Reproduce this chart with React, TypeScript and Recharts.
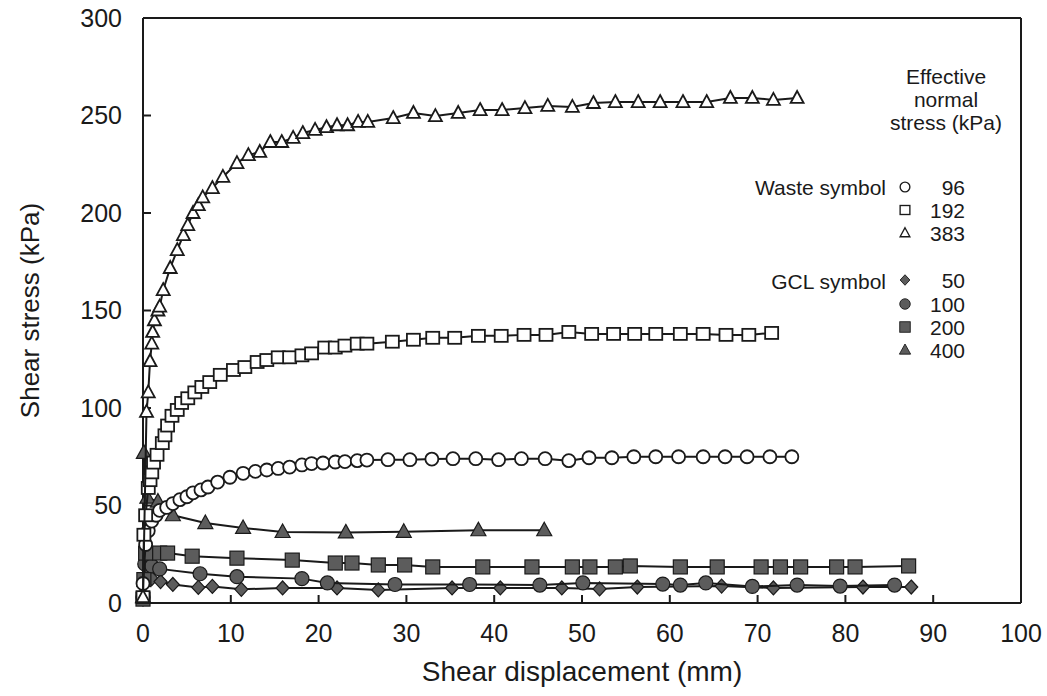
import { ComposedChart, Scatter, XAxis, YAxis } from 'recharts'

// ─── Layout / style ──────────────────────────────────────────────────────────

const W = 1047
const H = 696
const FONT = '"Liberation Sans", Arial, Helvetica, sans-serif'
const INK = '#1a1a1a'
const FILL = '#5c5c5c'

// ─── Data ────────────────────────────────────────────────────────────────────

const X_TICKS = [0, 10, 20, 30, 40, 50, 60, 70, 80, 90, 100]
const Y_TICKS = [0, 50, 100, 150, 200, 250, 300]

// Waste, effective normal stress 96 kPa (open circles)
const WASTE_96_X = [0, 0.3, 0.6, 1.0, 1.5, 1.9, 2.7, 3.4, 4.2, 5.0, 5.7, 6.6, 7.4, 8.5, 9.9, 11.4, 12.8, 14.1, 15.4, 16.7, 18.1, 19.2, 20.5, 21.9, 23.0, 24.4, 25.5, 27.9, 30.4, 32.9, 35.3, 37.9, 40.5, 43.1, 45.8, 48.5, 50.8, 53.4, 55.9, 58.4, 61.0, 63.8, 66.3, 68.8, 71.4, 73.9]
const WASTE_96_Y = [10, 30, 37, 42, 45, 47.5, 49, 51, 53, 54.5, 56.5, 58, 59.5, 62, 64.5, 66.5, 67.5, 68.2, 69, 69.7, 70.8, 71.5, 71.8, 72.3, 72.5, 73, 73.3, 73.5, 73.5, 73.8, 74, 74, 73.5, 74, 74, 73, 74.5, 74.5, 75, 75, 75, 75, 75, 75, 75, 75]

// Waste, 192 kPa (open squares)
const WASTE_192_X = [0, 0.1, 0.3, 0.6, 0.8, 1.0, 1.2, 1.6, 2.2, 2.5, 2.8, 3.3, 3.9, 4.4, 5.1, 5.9, 6.7, 7.6, 8.8, 10.3, 11.6, 13.0, 14.1, 15.4, 16.7, 18.1, 19.2, 20.7, 21.9, 23.0, 24.4, 25.5, 28.4, 30.8, 33.0, 35.5, 38.2, 40.8, 43.4, 45.9, 48.5, 51.1, 53.6, 56.0, 58.4, 61.2, 63.8, 66.4, 69.0, 71.6]
const WASTE_192_Y = [3, 35, 45, 59, 63, 67, 72, 76, 82, 86, 91, 96, 99, 102.6, 105, 108, 110.8, 113.3, 117, 119.5, 121, 123.6, 124.6, 126, 126, 127, 128, 131, 131, 132, 133, 133, 134, 135, 136, 136, 137, 137, 137.5, 137.5, 139, 138, 138, 138, 138, 138, 138, 137.5, 137.5, 138.5]

// Waste, 383 kPa (open triangles)
const WASTE_383_X = [0, 0.4, 0.6, 0.8, 1.0, 1.1, 1.3, 1.7, 1.9, 2.3, 3.1, 3.9, 4.6, 5.1, 5.7, 6.3, 6.8, 7.9, 9.1, 10.7, 12.0, 13.3, 14.5, 15.8, 17.1, 18.2, 19.6, 20.9, 22.1, 23.3, 24.5, 25.6, 28.5, 30.8, 33.3, 35.9, 38.4, 40.9, 43.5, 46.1, 48.9, 51.3, 53.8, 56.4, 58.9, 61.5, 64.2, 66.9, 69.4, 71.8, 74.5]
const WASTE_383_Y = [3, 98, 108, 124, 133, 139, 145, 150, 152, 160.5, 171.8, 181, 188.7, 193.8, 200, 204, 208, 212.8, 218.5, 225.6, 229.7, 231.3, 236.4, 236.4, 238.5, 241, 242.6, 244, 245, 245, 246.7, 246.7, 248.7, 251.3, 249.7, 251.3, 252.8, 252.8, 253.8, 254.9, 254.4, 256.4, 256.9, 256.9, 256.9, 256.9, 256.9, 259, 259, 258, 259]

// GCL, 50 kPa (filled diamonds)
const GCL_50_X = [0, 0.3, 1.0, 2.0, 3.4, 6.3, 7.9, 11.2, 15.9, 22.1, 26.8, 35.2, 40.7, 47.7, 52.0, 56.3, 65.9, 71.8, 82.0, 87.5]
const GCL_50_Y = [2, 14, 12.5, 11, 9.5, 8, 8.5, 7, 7.7, 7.7, 6.7, 7.7, 7.7, 7.7, 7.2, 8.2, 8.7, 7.7, 8.2, 8.2]

// GCL, 100 kPa (filled circles)
const GCL_100_X = [0, 0.2, 1.0, 1.9, 6.5, 10.7, 18.1, 21.0, 28.7, 37.2, 45.2, 50.1, 59.2, 61.2, 64.1, 69.4, 74.5, 79.4, 85.6]
const GCL_100_Y = [3, 20, 19, 17.5, 15, 13.5, 12.5, 10.3, 9.5, 9.5, 9.2, 10.3, 9.7, 9.2, 10.3, 8.5, 9.2, 8.7, 9.2]

// GCL, 200 kPa (filled squares)
const GCL_200_X = [0, 0.1, 0.3, 1.9, 2.8, 5.6, 10.7, 17.0, 21.9, 23.8, 26.8, 29.8, 33.0, 38.7, 44.3, 48.9, 50.9, 53.8, 55.5, 61.2, 65.4, 70.4, 72.6, 74.9, 79.0, 81.1, 87.2]
const GCL_200_Y = [2, 12, 25.6, 25.6, 25.6, 24, 23, 22, 20.5, 20.5, 19.5, 19.5, 18.5, 18.5, 18.5, 18.5, 18.5, 18.5, 19, 18.5, 18.5, 18.5, 18.5, 18.5, 18.5, 18.5, 19]

// GCL, 400 kPa (filled triangles)
const GCL_400_X = [0, 0.1, 0.5, 1.7, 3.4, 7.1, 11.4, 15.9, 23.1, 29.7, 38.2, 45.7]
const GCL_400_Y = [3, 77, 54, 52, 45, 41, 38.5, 36.4, 36.2, 36.5, 37.3, 37.3]

const zip = (xs: number[], ys: number[]) => xs.map((x, i) => ({ x, y: ys[i] }))

// ─── Marker shapes ───────────────────────────────────────────────────────────

interface ShapeProps {
  cx?: number
  cy?: number
}

function OpenCircle({ cx = 0, cy = 0 }: ShapeProps) {
  return <circle cx={cx} cy={cy} r={6.5} fill="#fff" stroke={INK} strokeWidth={1.8} />
}

function OpenSquare({ cx = 0, cy = 0 }: ShapeProps) {
  return <rect x={cx - 6.5} y={cy - 6} width={13} height={12} fill="#fff" stroke={INK} strokeWidth={1.8} />
}

function OpenTriangle({ cx = 0, cy = 0 }: ShapeProps) {
  return (
    <path
      d={`M${cx},${cy - 7} L${cx + 6.5},${cy + 5} L${cx - 6.5},${cy + 5} Z`}
      fill="#fff"
      stroke={INK}
      strokeWidth={1.8}
    />
  )
}

function FilledDiamond({ cx = 0, cy = 0 }: ShapeProps) {
  return (
    <path
      d={`M${cx},${cy - 7} L${cx + 6.5},${cy} L${cx},${cy + 7} L${cx - 6.5},${cy} Z`}
      fill={FILL}
      stroke={INK}
      strokeWidth={1.2}
    />
  )
}

function FilledCircle({ cx = 0, cy = 0 }: ShapeProps) {
  return <circle cx={cx} cy={cy} r={7} fill={FILL} stroke={INK} strokeWidth={1.2} />
}

function FilledSquare({ cx = 0, cy = 0 }: ShapeProps) {
  return <rect x={cx - 7} y={cy - 7} width={14} height={14} fill={FILL} stroke={INK} strokeWidth={1.2} />
}

function FilledTriangle({ cx = 0, cy = 0 }: ShapeProps) {
  return (
    <path
      d={`M${cx},${cy - 8} L${cx + 7.5},${cy + 5.5} L${cx - 7.5},${cy + 5.5} Z`}
      fill={FILL}
      stroke={INK}
      strokeWidth={1.2}
    />
  )
}

const SERIES = [
  { key: 'gcl50', data: zip(GCL_50_X, GCL_50_Y), shape: FilledDiamond },
  { key: 'gcl100', data: zip(GCL_100_X, GCL_100_Y), shape: FilledCircle },
  { key: 'gcl200', data: zip(GCL_200_X, GCL_200_Y), shape: FilledSquare },
  { key: 'gcl400', data: zip(GCL_400_X, GCL_400_Y), shape: FilledTriangle },
  { key: 'w96', data: zip(WASTE_96_X, WASTE_96_Y), shape: OpenCircle },
  { key: 'w192', data: zip(WASTE_192_X, WASTE_192_Y), shape: OpenSquare },
  { key: 'w383', data: zip(WASTE_383_X, WASTE_383_Y), shape: OpenTriangle },
]

// ─── Legend (upper right, inside the frame) ─────────────────────────────────

const LEGEND_WASTE = [
  { value: '96', y: 187, shape: OpenCircle },
  { value: '192', y: 210, shape: OpenSquare },
  { value: '383', y: 233, shape: OpenTriangle },
]
const LEGEND_GCL = [
  { value: '50', y: 280, shape: FilledDiamond },
  { value: '100', y: 304, shape: FilledCircle },
  { value: '200', y: 327, shape: FilledSquare },
  { value: '400', y: 350, shape: FilledTriangle },
]

function LegendOverlay() {
  const text = { fontFamily: FONT, fontSize: 21, fill: INK }
  const symX = 905
  const numX = 965
  return (
    <svg width={W} height={H} style={{ position: 'absolute', left: 0, top: 0, pointerEvents: 'none' }}>
      <text x={946} y={76} textAnchor="middle" dominantBaseline="central" {...text}>Effective</text>
      <text x={946} y={99} textAnchor="middle" dominantBaseline="central" {...text}>normal</text>
      <text x={946} y={122} textAnchor="middle" dominantBaseline="central" {...text}>stress (kPa)</text>
      <text x={886} y={187} textAnchor="end" dominantBaseline="central" {...text}>Waste symbol</text>
      <text x={886} y={281} textAnchor="end" dominantBaseline="central" {...text}>GCL symbol</text>
      {[...LEGEND_WASTE, ...LEGEND_GCL].map(item => {
        const Shape = item.shape
        return (
          <g key={item.value}>
            <g transform={`translate(${symX},${item.y}) scale(0.75) translate(${-symX},${-item.y})`}>
              <Shape cx={symX} cy={item.y} />
            </g>
            <text x={numX} y={item.y} textAnchor="end" dominantBaseline="central" {...text}>{item.value}</text>
          </g>
        )
      })}
    </svg>
  )
}

// ─── Chart ───────────────────────────────────────────────────────────────────

export default function App() {
  const tick = { fontSize: 25, fill: INK, fontFamily: FONT }
  const axisLine = { stroke: INK, strokeWidth: 2 }
  const tickLine = { stroke: INK, strokeWidth: 2 }

  return (
    <div style={{ position: 'absolute', left: 0, top: 0, width: W, height: H, background: '#fff' }}>
      <ComposedChart width={W} height={H} margin={{ top: 17, right: 25, bottom: 3, left: 0 }}>
        <XAxis
          type="number"
          dataKey="x"
          domain={[0, 100]}
          ticks={X_TICKS}
          interval={0}
          height={90}
          tick={tick}
          tickSize={-8}
          tickMargin={29}
          axisLine={axisLine}
          tickLine={tickLine}
          label={{
            value: 'Shear displacement (mm)',
            position: 'insideBottom',
            offset: 12,
            style: { fontSize: 28, fill: INK, fontFamily: FONT },
          }}
        />
        <XAxis
          xAxisId="top"
          orientation="top"
          type="number"
          domain={[0, 100]}
          ticks={X_TICKS}
          interval={0}
          height={1}
          tick={false}
          tickSize={-8}
          axisLine={axisLine}
          tickLine={tickLine}
          allowDataOverflow
        />
        <YAxis
          type="number"
          dataKey="y"
          domain={[0, 300]}
          ticks={Y_TICKS}
          interval={0}
          width={143}
          tick={tick}
          tickSize={-8}
          tickMargin={29}
          axisLine={axisLine}
          tickLine={tickLine}
          label={{
            value: 'Shear stress (kPa)',
            angle: -90,
            position: 'insideLeft',
            offset: 30,
            style: { fontSize: 26, fill: INK, fontFamily: FONT, textAnchor: 'middle' },
          }}
        />
        <YAxis
          yAxisId="right"
          orientation="right"
          type="number"
          domain={[0, 300]}
          ticks={Y_TICKS}
          interval={0}
          width={1}
          tick={false}
          tickSize={-8}
          axisLine={axisLine}
          tickLine={tickLine}
          allowDataOverflow
        />
        {SERIES.map(s => (
          <Scatter
            key={s.key}
            name={s.key}
            data={s.data}
            line={{ stroke: INK, strokeWidth: 2 }}
            shape={s.shape}
            isAnimationActive={false}
          />
        ))}
      </ComposedChart>
      <LegendOverlay />
    </div>
  )
}
